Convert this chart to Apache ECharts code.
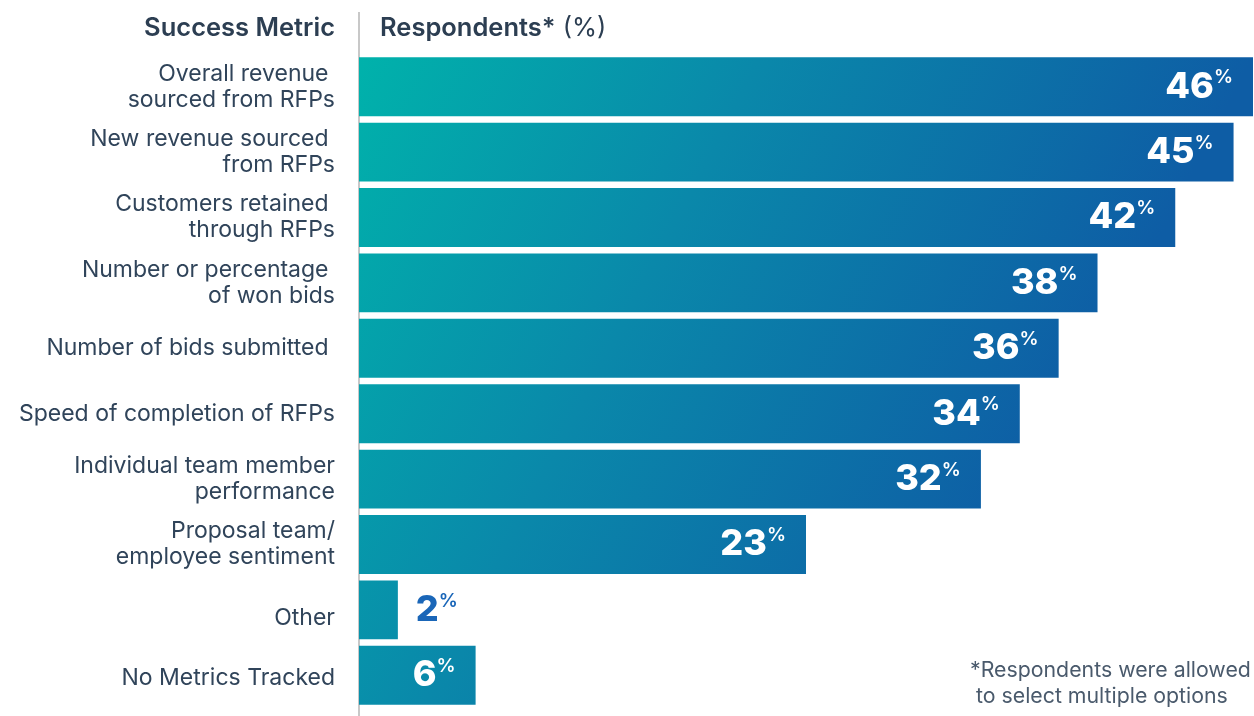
<!DOCTYPE html>
<html>
<head>
<meta charset="utf-8">
<script src="https://cdn.jsdelivr.net/npm/echarts@6/dist/echarts.min.js"></script>
<style>
  html, body { margin: 0; padding: 0; background: #ffffff; }
  #chart { width: 1254px; height: 716px; }
</style>
</head>
<body>
<div id="chart"></div>
<script>
// Success metrics tracked for RFP programmes, share of respondents (%)
const categories = [
  'Overall revenue \nsourced from RFPs',
  'New revenue sourced \nfrom RFPs',
  'Customers retained \nthrough RFPs',
  'Number or percentage \nof won bids',
  'Number of bids submitted ',
  'Speed of completion of RFPs',
  'Individual team member\nperformance',
  'Proposal team/\nemployee sentiment',
  'Other',
  'No Metrics Tracked'
];
const values = [46, 45, 42, 38, 36, 34, 32, 23, 2, 6];

const headerLeft = 'Success Metric';
const headerRightBold = 'Respondents*';
const headerRightPlain = ' (%)';
const footnoteLines = ['*Respondents were allowed', ' to select multiple options'];

const FONT = 'Inter, "Open Sans", sans-serif';
const TEXT = '#30445a';
const HEAD = '#2c3e52';

// row labels that sit a little lower than their bar centre (rich style name)
const labelLowered = { 'Other': 'low8', 'No Metrics Tracked': 'low3' };

const chart = echarts.init(document.getElementById('chart'), null, { renderer: 'canvas' });

// One gradient across the plot area: teal at top-left, blue towards the right
const barFill = new echarts.graphic.LinearGradient(359, 57, 1063, 423, [
  { offset: 0, color: '#00b2ab' },
  { offset: 0.45, color: '#0a88aa' },
  { offset: 1, color: '#0e5da5' }
], true);

const SMALL = 4; // bars shorter than this carry their label outside

const rowText = { fontFamily: FONT, fontSize: 23, lineHeight: 26, color: TEXT };

chart.setOption({
  animation: false,
  grid: { left: 359, right: 1, top: 54, bottom: 8, containLabel: false },
  xAxis: {
    type: 'value', min: 0, max: 46,
    show: false
  },
  yAxis: {
    type: 'category',
    data: categories,
    inverse: true,
    axisLine: { show: false },
    axisTick: { show: false },
    axisLabel: Object.assign({
      margin: 24,
      align: 'right',
      formatter: v => labelLowered[v] ? '{' + labelLowered[v] + '|' + v + '}' : v,
      rich: {
        low8: Object.assign({ padding: [16, 0, 0, 0] }, rowText),
        low3: Object.assign({ padding: [6, 0, 0, 0] }, rowText)
      }
    }, rowText)
  },
  series: [{
    type: 'bar',
    data: values.map(v => ({
      value: v,
      label: v < SMALL
        ? { position: 'right', distance: 18, rich: { n: { color: '#1a66b8' }, p: { color: '#1a66b8' } } }
        : { position: 'insideRight', distance: 20 }
    })),
    barCategoryGap: '10%',
    itemStyle: { color: barFill },
    label: {
      show: true,
      formatter: p => '{n|' + p.value + '}{p|%}',
      rich: {
        n: { fontFamily: FONT, fontWeight: 800, fontSize: 36, color: '#ffffff' },
        p: { fontFamily: FONT, fontWeight: 600, fontSize: 19, color: '#ffffff', padding: [0, 0, 18, 0] }
      }
    }
  }],
  graphic: [
    {
      type: 'line',
      shape: { x1: 359, y1: 12, x2: 359, y2: 716 },
      style: { stroke: '#c8c8c8', lineWidth: 2 }
    },
    {
      type: 'text', right: 919, top: 15,
      style: { text: headerLeft, fontFamily: FONT, fontWeight: 600, fontSize: 25.5, fill: HEAD }
    },
    {
      type: 'text', left: 380, top: 15,
      style: {
        text: '{b|' + headerRightBold + '}{r|' + headerRightPlain + '}',
        rich: {
          b: { fontFamily: FONT, fontWeight: 600, fontSize: 25.5, fill: HEAD },
          r: { fontFamily: FONT, fontWeight: 400, fontSize: 25.5, fill: HEAD }
        }
      }
    },
    {
      type: 'text', left: 970, top: 658,
      style: {
        text: footnoteLines.join('\n'),
        fontFamily: FONT, fontSize: 21.3, lineHeight: 26, fill: '#4a5a6c'
      }
    }
  ]
});
</script>
</body>
</html>
